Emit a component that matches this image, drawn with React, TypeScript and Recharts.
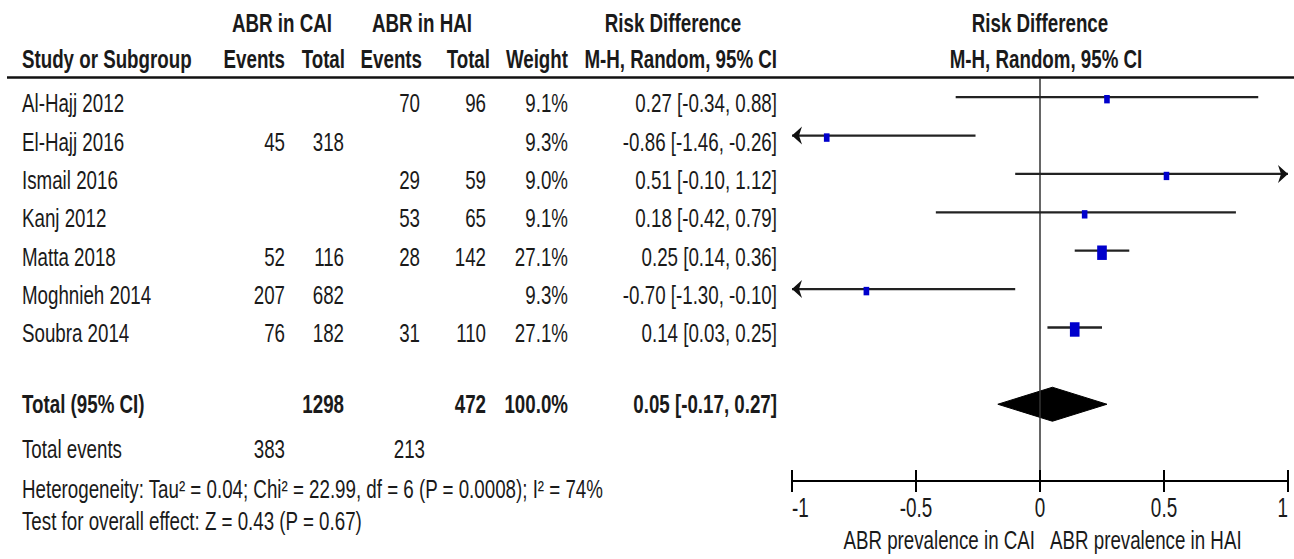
import React from 'react'
import {
  ComposedChart,
  XAxis,
  YAxis,
  Line,
  Area,
  Scatter,
  ReferenceLine,
  Customized,
} from 'recharts'

// forest plot: ABR prevalence, CAI vs HAI (risk difference)

const studies = ['Al-Hajj 2012', 'El-Hajj 2016', 'Ismail 2016', 'Kanj 2012', 'Matta 2018', 'Moghnieh 2014', 'Soubra 2014']
const caiEvents = [null, 45, null, null, 52, 207, 76]
const caiTotal = [null, 318, null, null, 116, 682, 182]
const haiEvents = [70, null, 29, 53, 28, null, 31]
const haiTotal = [96, null, 59, 65, 142, null, 110]
const weights = [9.1, 9.3, 9.0, 9.1, 27.1, 9.3, 27.1]
const riskDiff = [0.27, -0.86, 0.51, 0.18, 0.25, -0.7, 0.14]
const ciLow = [-0.34, -1.46, -0.1, -0.42, 0.14, -1.3, 0.03]
const ciHigh = [0.88, -0.26, 1.12, 0.79, 0.36, -0.1, 0.25]

const pooled = { rd: 0.05, lo: -0.17, hi: 0.27, caiTotal: 1298, haiTotal: 472, weight: 100.0 }
const totalEvents = { cai: 383, hai: 213 }
const heterogeneity = 'Heterogeneity: Tau² = 0.04; Chi² = 22.99, df = 6 (P = 0.0008); I² = 74%'
const overallEffect = 'Test for overall effect: Z = 0.43 (P = 0.67)'

const xTicks = [-1, -0.5, 0, 0.5, 1]
const X_MIN = -1
const X_MAX = 1
const TOTAL_ROW = 8

const W = 1294
const H = 559
const TOP = 78
const BOTTOM = 481
const rowPx = (i: number) => TOP + (i + 0.5) * ((BOTTOM - TOP) / 10.5)

const FONT = "'Liberation Sans', Arial, Helvetica, sans-serif"
const INK = '#1a1a1a'

function T({ x, y, a = 'start', b = false, size = 25, sx = 0.75, children }: any) {
  return (
    <text
      transform={`translate(${x},${y}) scale(${sx},1)`}
      textAnchor={a}
      fontFamily={FONT}
      fontSize={size}
      fontWeight={b ? 700 : 400}
      fill={INK}
    >
      {children}
    </text>
  )
}

const fmtCI = (rd: number, lo: number, hi: number) => `${rd.toFixed(2)} [${lo.toFixed(2)}, ${hi.toFixed(2)}]`

// column right edges of the table
const COL = { name: 22, caiE: 285, caiT: 344, haiE: 420, haiT: 486, weight: 568, ci: 777 }

function TableLayer() {
  return (
    <g>
      {/* headers */}
      <T x={282} y={32} a="middle" b>ABR in CAI</T>
      <T x={422} y={32} a="middle" b>ABR in HAI</T>
      <T x={673} y={32} a="middle" b>Risk Difference</T>
      <T x={1040} y={32} a="middle" b>Risk Difference</T>
      <T x={COL.name} y={68} b>Study or Subgroup</T>
      <T x={285} y={68} a="end" b>Events</T>
      <T x={345} y={68} a="end" b>Total</T>
      <T x={422} y={68} a="end" b>Events</T>
      <T x={490} y={68} a="end" b>Total</T>
      <T x={568} y={68} a="end" b>Weight</T>
      <T x={777} y={68} a="end" b>M-H, Random, 95% CI</T>
      <T x={1046} y={68} a="middle" b>M-H, Random, 95% CI</T>
      <line x1={7} x2={W} y1={77.5} y2={77.5} stroke="#111" strokeWidth={2.5} />

      {studies.map((s, i) => {
        const y = rowPx(i) + 15
        return (
          <g key={s}>
            <T x={COL.name} y={y}>{s}</T>
            {caiEvents[i] != null && <T x={COL.caiE} y={y} a="end">{caiEvents[i]}</T>}
            {caiTotal[i] != null && <T x={COL.caiT} y={y} a="end">{caiTotal[i]}</T>}
            {haiEvents[i] != null && <T x={COL.haiE} y={y} a="end">{haiEvents[i]}</T>}
            {haiTotal[i] != null && <T x={COL.haiT} y={y} a="end">{haiTotal[i]}</T>}
            <T x={COL.weight} y={y} a="end">{`${weights[i].toFixed(1)}%`}</T>
            <T x={COL.ci} y={y} a="end">{fmtCI(riskDiff[i], ciLow[i], ciHigh[i])}</T>
          </g>
        )
      })}

      <T x={COL.name} y={413} b>Total (95% CI)</T>
      <T x={COL.caiT} y={413} a="end" b>{pooled.caiTotal}</T>
      <T x={COL.haiT} y={413} a="end" b>{pooled.haiTotal}</T>
      <T x={COL.weight} y={413} a="end" b>{`${pooled.weight.toFixed(1)}%`}</T>
      <T x={COL.ci} y={413} a="end" b>{fmtCI(pooled.rd, pooled.lo, pooled.hi)}</T>

      <T x={COL.name} y={458}>Total events</T>
      <T x={COL.caiE} y={458} a="end">{totalEvents.cai}</T>
      <T x={425} y={458} a="end">{totalEvents.hai}</T>
      <T x={COL.name} y={498}>{heterogeneity}</T>
      <T x={COL.name} y={530}>{overallEffect}</T>

      <T x={1035} y={549} a="end">ABR prevalence in CAI</T>
      <T x={1050} y={549}>ABR prevalence in HAI</T>
    </g>
  )
}

function AxisTick(props: any) {
  const { x, y, payload } = props
  const v = payload.value
  const anchor = v === X_MIN ? 'start' : v === X_MAX ? 'end' : 'middle'
  return (
    <g>
      <line x1={x} x2={x} y1={y - 11} y2={y + 11} stroke="#000" strokeWidth={2} />
      <T x={x} y={y + 36} a={anchor} size={27} sx={0.7}>{String(v)}</T>
    </g>
  )
}

const arrowDot = (props: any) => {
  const { cx, cy, payload, index } = props
  if (!payload || !payload.arrow) return <g key={`d${index}`} />
  const d = payload.arrow === 'left' ? 1 : -1
  return (
    <polygon
      key={`d${index}`}
      points={`${cx},${cy} ${cx + 10 * d},${cy - 9} ${cx + 7 * d},${cy} ${cx + 10 * d},${cy + 9}`}
      fill="#111"
    />
  )
}

const squareShape = (props: any) => {
  const { cx, cy, payload } = props
  const w = 1.85 * Math.sqrt(payload.weight)
  const h = w * 1.5
  return <rect x={cx - w / 2} y={cy - h / 2 + 2} width={w} height={h} fill="#0000cc" />
}

const ciSeries = studies.map((s, i) => ({
  name: s,
  data: [
    { x: Math.max(ciLow[i], X_MIN), y: i, arrow: ciLow[i] < X_MIN ? 'left' : null },
    { x: Math.min(ciHigh[i], X_MAX), y: i, arrow: ciHigh[i] > X_MAX ? 'right' : null },
  ],
}))

const pointData = studies.map((s, i) => ({ name: s, x: riskDiff[i], y: i, weight: weights[i] }))

const DH = 0.443
const diamondData = [
  { x: pooled.lo, band: [TOTAL_ROW, TOTAL_ROW] },
  { x: pooled.rd, band: [TOTAL_ROW - DH, TOTAL_ROW + DH] },
  { x: pooled.hi, band: [TOTAL_ROW, TOTAL_ROW] },
]

export default function App() {
  return (
    <div style={{ position: 'absolute', left: 0, top: 0, width: W, height: H, background: '#fff' }}>
      <ComposedChart width={W} height={H} margin={{ top: TOP, right: W - 1288, bottom: 0, left: 792 }}>
        <Customized component={TableLayer} />
        <XAxis
          type="number"
          dataKey="x"
          domain={[X_MIN, X_MAX]}
          ticks={xTicks}
          interval={0}
          allowDataOverflow
          height={H - BOTTOM}
          axisLine={{ stroke: '#000', strokeWidth: 2 }}
          tickLine={false}
          tickSize={0}
          tickMargin={0}
          tick={<AxisTick />}
        />
        <YAxis type="number" dataKey="y" domain={[-0.5, 10]} reversed hide allowDataOverflow />
        <ReferenceLine x={0} stroke="#333" strokeWidth={1.5} />
        {ciSeries.map((c) => (
          <Line
            key={c.name}
            data={c.data}
            dataKey="y"
            type="linear"
            stroke="#222"
            strokeWidth={2.3}
            dot={arrowDot}
            activeDot={false}
            isAnimationActive={false}
          />
        ))}
        <Area
          data={diamondData}
          dataKey="band"
          type="linear"
          stroke="#000"
          fill="#000"
          fillOpacity={1}
          dot={false}
          activeDot={false}
          isAnimationActive={false}
        />
        <Scatter data={pointData} shape={squareShape} isAnimationActive={false} />
      </ComposedChart>
    </div>
  )
}
